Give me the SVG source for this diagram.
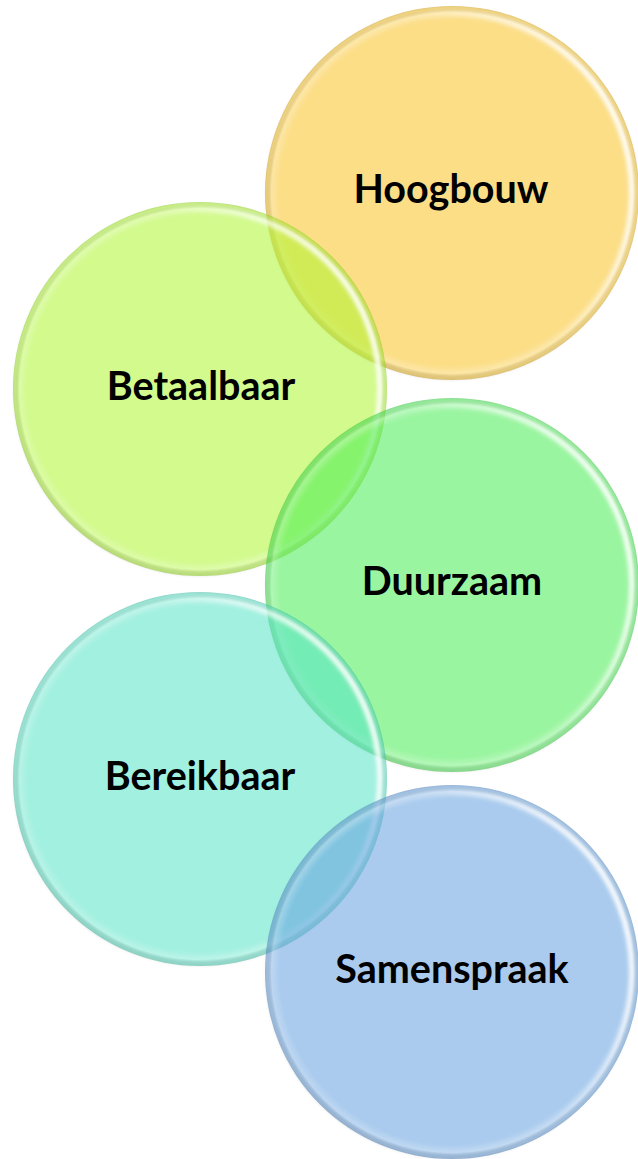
<svg xmlns="http://www.w3.org/2000/svg" width="638" height="1159" viewBox="0 0 638 1159">
  <style>
    .disc { fill-opacity: 0.55; }
    .bevel { fill: url(#bevel); }
    .rim { fill: none; stroke: url(#rimLight); stroke-width: 6; filter: url(#soft); }
    .edge { fill: none; stroke: url(#edgeShade); stroke-width: 3; filter: url(#soft); }
    .label { font-family: Lato, "Liberation Sans", sans-serif; font-weight: 700; font-size: 39.5px; fill: #000; text-anchor: middle; }
  </style>
  <defs>
    <filter id="soft" x="-5%" y="-5%" width="110%" height="110%">
      <feGaussianBlur stdDeviation="1.6"/>
    </filter>
    <radialGradient id="bevel" cx="0.5" cy="0.5" r="0.5">
      <stop offset="0" stop-color="#fff" stop-opacity="0"/>
      <stop offset="0.92" stop-color="#fff" stop-opacity="0"/>
      <stop offset="0.965" stop-color="#fff" stop-opacity="0.22"/>
      <stop offset="0.99" stop-color="#000" stop-opacity="0.04"/>
      <stop offset="1" stop-color="#000" stop-opacity="0.1"/>
    </radialGradient>
    <linearGradient id="rimLight" x1="0.1" y1="0.8" x2="1" y2="0.4">
      <stop offset="0" stop-color="#fff" stop-opacity="0"/>
      <stop offset="0.6" stop-color="#fff" stop-opacity="0.12"/>
      <stop offset="1" stop-color="#fff" stop-opacity="0.75"/>
    </linearGradient>
    <linearGradient id="edgeShade" x1="0.7" y1="0" x2="0.2" y2="1">
      <stop offset="0" stop-color="#000" stop-opacity="0"/>
      <stop offset="0.6" stop-color="#000" stop-opacity="0.03"/>
      <stop offset="1" stop-color="#000" stop-opacity="0.12"/>
    </linearGradient>
  </defs>

  <g id="connectors"></g>

  <g id="node-hoogbouw">
    <circle class="disc" cx="452" cy="193" r="187" fill="#F9C325"/>
    <circle class="bevel" cx="452" cy="193" r="187"/>
    <circle class="rim" cx="452" cy="193" r="180"/>
    <circle class="edge" cx="452" cy="193" r="185.5"/>
    <text class="label" x="451" y="203">Hoogbouw</text>
  </g>

  <g id="node-betaalbaar">
    <circle class="disc" cx="200" cy="389" r="187" fill="#ADF62E"/>
    <circle class="bevel" cx="200" cy="389" r="187"/>
    <circle class="rim" cx="200" cy="389" r="180"/>
    <circle class="edge" cx="200" cy="389" r="185.5"/>
    <text class="label" x="201" y="400">Betaalbaar</text>
  </g>

  <g id="node-duurzaam">
    <circle class="disc" cx="452" cy="585" r="187" fill="#47ED52"/>
    <circle class="bevel" cx="452" cy="585" r="187"/>
    <circle class="rim" cx="452" cy="585" r="180"/>
    <circle class="edge" cx="452" cy="585" r="185.5"/>
    <text class="label" x="452" y="595">Duurzaam</text>
  </g>

  <g id="node-bereikbaar">
    <circle class="disc" cx="200" cy="779" r="187" fill="#56E4C7"/>
    <circle class="bevel" cx="200" cy="779" r="187"/>
    <circle class="rim" cx="200" cy="779" r="180"/>
    <circle class="edge" cx="200" cy="779" r="185.5"/>
    <text class="label" x="200" y="790">Bereikbaar</text>
  </g>

  <g id="node-samenspraak">
    <circle class="disc" cx="452" cy="972" r="187" fill="#64A0E0"/>
    <circle class="bevel" cx="452" cy="972" r="187"/>
    <circle class="rim" cx="452" cy="972" r="180"/>
    <circle class="edge" cx="452" cy="972" r="185.5"/>
    <text class="label" x="452" y="983">Samenspraak</text>
  </g>
</svg>
